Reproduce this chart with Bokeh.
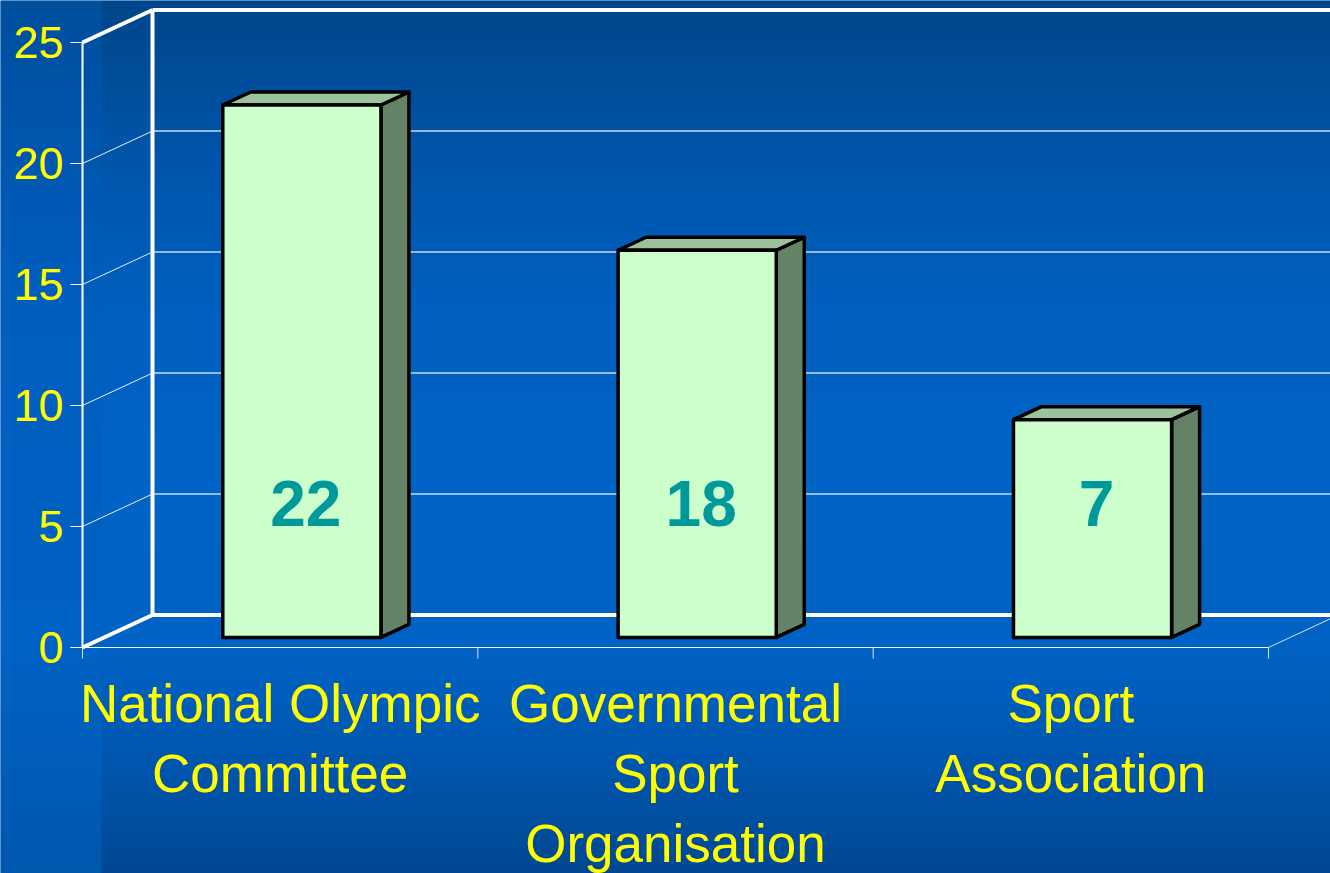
from bokeh.plotting import figure
from bokeh.models import Range1d
from bokeh.core.properties import value
from bokeh.embed import file_html
from bokeh.resources import INLINE

# ---------------- data ----------------
categories = ["National Olympic\nCommittee", "Governmental\nSport\nOrganisation", "Sport\nAssociation"]
bar_heights = [22, 16, 9]          # drawn heights of the bars
bar_labels = ["22", "18", "7"]     # numbers printed on the bars
y_ticks = [0, 5, 10, 15, 20, 25]
y_tick_labels = ["0", "5", "10", "15", "20", "25"]

# ---------------- layout ----------------
W, H = 1330, 873
X0_PX, Y0_PX = 82, 647                 # pixel position of the front origin
CAT_PX = (1268 - 82) / 3               # pixels per category
VAL_PX = (647 - 42) / 25               # pixels per value unit
YMAX = 25
DX = 70 / CAT_PX                       # depth offset of the 3D box (x, data units)
DY = 32.5 / VAL_PX                     # depth offset (y, value units)
BW = 0.4                               # bar width (category units)
F0, FD = 0.31, 0.40                    # bar front position / bar depth (fractions of depth)
X_END = (W - X0_PX) / CAT_PX
Y_BOT = -(H - Y0_PX) / VAL_PX
Y_TOP = Y0_PX / VAL_PX

def px_x(d):  # pixel distance -> x data units
    return d / CAT_PX

def px_y(d):  # pixel distance -> y data units
    return d / VAL_PX

p = figure(width=W, height=H, x_range=Range1d(-X0_PX / CAT_PX, X_END),
           y_range=Range1d(Y_BOT, Y_TOP), output_backend="svg",
           toolbar_location=None, x_axis_location=None, y_axis_location=None,
           min_border=0, outline_line_color=None,
           background_fill_color="#0058B0", border_fill_color="#0058B0")
p.grid.visible = False

# ---------------- background gradient ----------------
def hex2rgb(h):
    h = h.lstrip("#")
    return tuple(int(h[i:i + 2], 16) for i in (0, 2, 4))

def interp(stops, py):
    for (a, ca), (b, cb) in zip(stops[:-1], stops[1:]):
        if a <= py <= b:
            t = (py - a) / (b - a)
            ra, rb = hex2rgb(ca), hex2rgb(cb)
            return "#%02x%02x%02x" % tuple(int(round(ra[k] + (rb[k] - ra[k]) * t)) for k in range(3))
    return stops[-1][1]

main_stops = [(0, "#00468A"), (150, "#0054A8"), (300, "#005FBE"), (450, "#0063C6"),
              (650, "#0062C4"), (760, "#0056AE"), (873, "#004792")]
left_stops = [(0, "#004E9E"), (300, "#005EBE"), (650, "#0062C4"), (873, "#0057AE")]
N = 110
step = H / N
for (x_l, x_r, stops) in [(-X0_PX, 101 - X0_PX, left_stops), (101 - X0_PX, W - X0_PX, main_stops)]:
    tops, bots, cols = [], [], []
    for k in range(N):
        py0, py1 = k * step, (k + 1) * step + 0.6
        tops.append(px_y(Y0_PX - py0))
        bots.append(px_y(Y0_PX - py1))
        cols.append(interp(stops, (py0 + py1) / 2))
    p.quad(left=[px_x(x_l)] * N, right=[px_x(x_r)] * N, top=tops, bottom=bots,
           fill_color=cols, line_color=None)

# ---------------- 3D frame ----------------
inner = [t for t in y_ticks if 0 < t < YMAX]
# back wall gridlines
p.segment(x0=[DX] * len(inner), y0=[t + DY for t in inner], x1=[X_END] * len(inner),
          y1=[t + DY for t in inner], line_color="#C4DAF0", line_width=1.5)
# side wall gridlines
p.segment(x0=[0] * len(inner), y0=inner, x1=[DX] * len(inner), y1=[t + DY for t in inner],
          line_color="#FFFFFF", line_width=1, line_alpha=0.9)
# y ticks
p.segment(x0=[px_x(-12)] * len(y_ticks), y0=y_ticks, x1=[0] * len(y_ticks), y1=y_ticks,
          line_color="#FFFFFF", line_width=1)
# x ticks
xt = list(range(len(categories) + 1))
p.segment(x0=xt, y0=[0] * len(xt), x1=xt, y1=[px_y(-11)] * len(xt),
          line_color="#D8E6F4", line_width=1)
# floor front edge
p.segment(x0=[px_x(-12)], y0=[0], x1=[len(categories)], y1=[0], line_color="#FFFFFF", line_width=1)
# right floor edge
p.segment(x0=[len(categories)], y0=[0], x1=[len(categories) + DX], y1=[DY],
          line_color="#D0E2F4", line_width=1)
# front vertical axis
p.segment(x0=[0], y0=[0], x1=[0], y1=[YMAX], line_color="#FFFFFF", line_width=2)
# thick frame lines
p.multi_line(xs=[[0, DX], [0, DX], [DX, DX], [DX, X_END], [DX, X_END]],
             ys=[[0, DY], [YMAX, YMAX + DY], [DY, YMAX + DY], [DY, DY], [YMAX + DY, YMAX + DY]],
             line_color="#FFFFFF", line_width=4)

# ---------------- bars ----------------
fx, fy = F0 * DX, F0 * DY
bdx, bdy = FD * DX, FD * DY
front_l, front_r, front_b, front_t = [], [], [], []
top_xs, top_ys, side_xs, side_ys = [], [], [], []
for i, h in enumerate(bar_heights):
    c = i + 0.5 + fx
    xl, xr = c - BW / 2, c + BW / 2
    yb, yt = fy, fy + h
    front_l.append(xl); front_r.append(xr); front_b.append(yb); front_t.append(yt)
    top_xs.append([xl, xl + bdx, xr + bdx, xr])
    top_ys.append([yt, yt + bdy, yt + bdy, yt])
    side_xs.append([xr, xr + bdx, xr + bdx, xr])
    side_ys.append([yb, yb + bdy, yt + bdy, yt])

p.patches(xs=side_xs, ys=side_ys, fill_color="#658266", line_color="#000000",
          line_width=3.5, line_join="round")
p.patches(xs=top_xs, ys=top_ys, fill_color="#9CC29C", line_color="#000000",
          line_width=3.5, line_join="round")
p.quad(left=front_l, right=front_r, bottom=front_b, top=front_t,
       fill_color="#CCFFCC", line_color="#000000", line_width=3.5, line_join="round")

# bar value labels
LABEL_Y = fy + px_y(134)
p.text(x=[(l + r) / 2 + px_x(4) for l, r in zip(front_l, front_r)], y=[LABEL_Y] * len(bar_labels),
       text=bar_labels, text_font=value("Liberation Sans"), text_font_style="bold",
       text_font_size="64px", text_color="#009999", text_align="center",
       text_baseline="middle")

# ---------------- tick labels ----------------
p.text(x=[px_x(-19)] * len(y_ticks), y=y_ticks, text=y_tick_labels,
       text_font=value("Liberation Sans"), text_font_size="45px", text_color="#FFFF00",
       text_align="right", text_baseline="middle")

cx, cy, ct = [], [], []
for i, cat in enumerate(categories):
    for j, line in enumerate(cat.split("\n")):
        cx.append(i + 0.5)
        cy.append(px_y(-56) - j * px_y(70))
        ct.append(line)
p.text(x=cx, y=cy, text=ct, text_font=value("Liberation Sans"), text_font_size="53px",
       text_color="#FFFF00", text_align="center", text_baseline="alphabetic")

open("out.html", "w").write(file_html(p, INLINE))
